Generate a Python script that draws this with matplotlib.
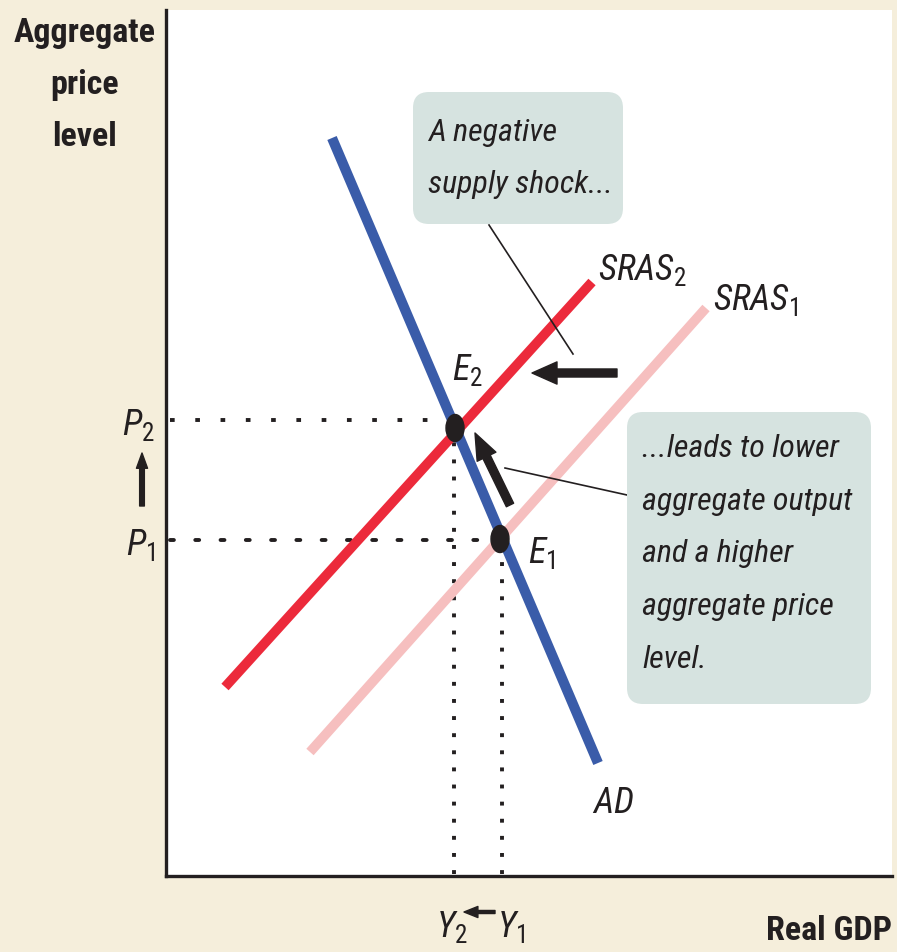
import matplotlib
matplotlib.use("Agg")
import matplotlib.pyplot as plt
from matplotlib.patches import Ellipse, FancyBboxPatch

plt.rcParams['font.family'] = ['Roboto Condensed', 'DejaVu Sans Condensed', 'Roboto', 'DejaVu Sans']
plt.rcParams['mathtext.fontset'] = 'custom'
plt.rcParams['mathtext.it'] = 'Roboto Condensed:italic'
plt.rcParams['mathtext.rm'] = 'Roboto Condensed'
plt.rcParams['mathtext.bf'] = 'Roboto Condensed:bold'

BEIGE = '#f5eedb'
BOX = '#d6e3e0'
BLUE = '#3a5ca9'
RED = '#ec2a3b'
PINK = '#f6bfbf'
INK = '#231f20'

# curves (diagram units, origin at the axes corner)
ad_x = [166, 432]
ad_y = [738, 113]
sras2_x = [59, 426]
sras2_y = [189, 594]
sras1_x = [144, 540]
sras1_y = [124, 568]

# equilibria
e2 = (289, 448)
e1 = (334, 337)
p_levels = {'P2': 456, 'P1': 336}
y_levels = {'Y2': 288, 'Y1': 336}

box1_text = "A negative\nsupply shock..."
box2_text = "...leads to lower\naggregate output\nand a higher\naggregate price\nlevel."

fig = plt.figure(figsize=(8.97, 9.52), dpi=100, facecolor=BEIGE)
ax = fig.add_axes([166 / 897, 76 / 952, 726 / 897, 866 / 952])
ax.set_facecolor('white')
ax.set_xlim(0, 726)
ax.set_ylim(0, 866)
ax.set_xticks([])
ax.set_yticks([])
for s in ['top', 'right']:
    ax.spines[s].set_visible(False)
for s in ['left', 'bottom']:
    ax.spines[s].set_linewidth(2.4)
    ax.spines[s].set_color(INK)

# dotted guide lines
ax.plot([4, e2[0] - 8], [p_levels['P2'], p_levels['P2']], color=INK, lw=2.8,
        ls=(0, (1.2, 5.3)), dash_capstyle='butt')
ax.plot([4, e1[0] - 8], [p_levels['P1'], p_levels['P1']], color=INK, lw=2.8,
        ls=(0, (1.0, 5.5)), dash_capstyle='round')
ax.plot([y_levels['Y2'], y_levels['Y2']], [2, e2[1] - 10], color=INK, lw=2.8,
        ls=(0, (1.0, 3.4)), dash_capstyle='butt')
ax.plot([y_levels['Y1'], y_levels['Y1']], [2, e1[1] - 10], color=INK, lw=2.8,
        ls=(0, (1.0, 3.4)), dash_capstyle='butt')

# curves
ax.plot(sras1_x, sras1_y, color=PINK, lw=7, solid_capstyle='butt')
ax.plot(sras2_x, sras2_y, color=RED, lw=7, solid_capstyle='butt')
ax.plot(ad_x, ad_y, color=BLUE, lw=7.3, solid_capstyle='butt')

for e in (e2, e1):
    ax.add_patch(Ellipse(e, 18, 27, color=INK, zorder=5))

# callout boxes
ax.add_patch(FancyBboxPatch((247, 652), 210, 132, boxstyle='round,pad=0,rounding_size=16',
                            fc=BOX, ec='none', zorder=3))
ax.add_patch(FancyBboxPatch((461, 172), 244, 292, boxstyle='round,pad=0,rounding_size=16',
                            fc=BOX, ec='none', zorder=3))
ax.text(262, 758, box1_text, style='italic', fontsize=23, color=INK, va='top',
        ha='left', linespacing=2.0, zorder=4)
ax.text(476, 442, box2_text, style='italic', fontsize=23, color=INK, va='top',
        ha='left', linespacing=2.03, zorder=4)

# leader lines
ax.plot([323, 407], [651, 522], color=INK, lw=1.2)
ax.plot([339, 461], [408, 381], color=INK, lw=1.2)

# shift arrows
ax.annotate('', xy=(366, 503), xytext=(451, 503),
            arrowprops=dict(arrowstyle='simple,head_length=18,head_width=16,tail_width=5.8',
                            mutation_scale=1, color=INK, shrinkA=0, shrinkB=0))
ax.annotate('', xy=(309, 443), xytext=(344, 371),
            arrowprops=dict(arrowstyle='simple,head_length=19,head_width=15,tail_width=5.8',
                            mutation_scale=1, color=INK, shrinkA=0, shrinkB=0))
ax.annotate('', xy=(-24, 423), xytext=(-24, 370), annotation_clip=False,
            arrowprops=dict(arrowstyle='simple,head_length=11,head_width=8,tail_width=3.4',
                            mutation_scale=1, color=INK, shrinkA=0, shrinkB=0, clip_on=False))
ax.annotate('', xy=(298, -36), xytext=(329, -36), annotation_clip=False,
            arrowprops=dict(arrowstyle='simple,head_length=10,head_width=8,tail_width=2.2',
                            mutation_scale=1, color=INK, shrinkA=0, shrinkB=0, clip_on=False))

# curve labels
lab = dict(fontsize=26, color=INK, va='baseline', clip_on=False)
ax.text(432, 596, r'$\mathit{SRAS}_{\mathrm{2}}$', ha='left', **lab)
ax.text(547, 566, r'$\mathit{SRAS}_{\mathrm{1}}$', ha='left', **lab)
ax.text(426, 63, r'$\mathit{AD}$', ha='left', **lab)
ax.text(286, 496, r'$\mathit{E}_{\mathrm{2}}$', ha='left', **lab)
ax.text(362, 313, r'$\mathit{E}_{\mathrm{1}}$', ha='left', **lab)
ax.text(-11, 441, r'$\mathit{P}_{\mathrm{2}}$', ha='right', **lab)
ax.text(-11, 321, r'$\mathit{P}_{\mathrm{1}}$', ha='right', **lab)
ax.text(302, -61, r'$\mathit{Y}_{\mathrm{2}}$', ha='right', **lab)
ax.text(331, -61, r'$\mathit{Y}_{\mathrm{1}}$', ha='left', **lab)

# axis titles
ax.text(-81, 859, 'Aggregate\nprice\nlevel', fontsize=24.5, fontweight='bold', color=INK,
        ha='center', va='top', multialignment='center', linespacing=1.8, clip_on=False)
ax.text(726, -64, 'Real GDP', fontsize=24.5, fontweight='bold', color=INK,
        ha='right', va='baseline', clip_on=False)

fig.savefig('out.png', dpi=100, facecolor=BEIGE)
